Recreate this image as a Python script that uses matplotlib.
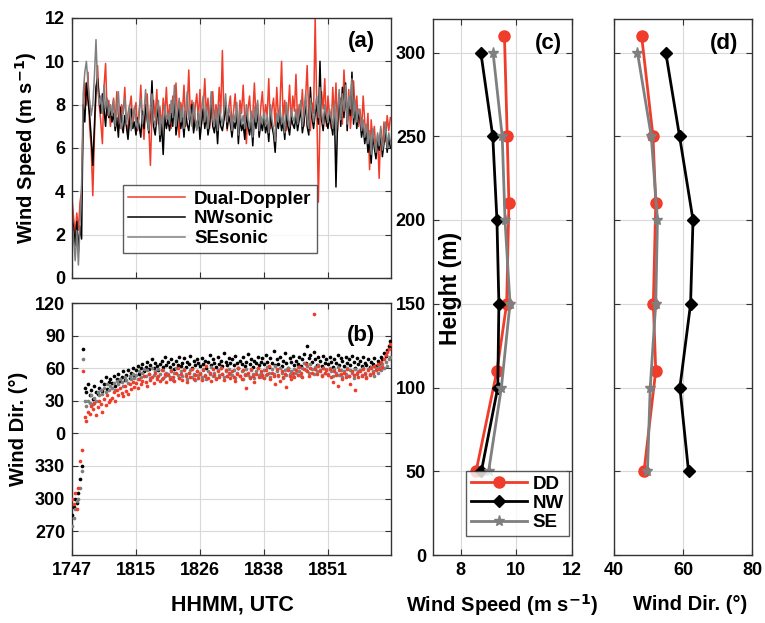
import numpy as np
import matplotlib
matplotlib.use("Agg")
import matplotlib.pyplot as plt

plt.rcParams['font.family'] = ['Liberation Sans', 'DejaVu Sans']
plt.rcParams['font.weight'] = 'bold'

RED = '#f03c2a'
GRAY = '#7f7f7f'
BLACK = '#000000'

# ---------------- Panel (a)/(b) time series (sample index) ----------------
t_idx = np.arange(0, 1000, 5)
tick_pos = [0, 200, 400, 600, 800]
tick_labels = ['1747', '1815', '1826', '1838', '1851']

ws_dd = [3.7, 2.8, 2.0, 3.0, 2.2, 3.5, 4.0,
         7.5, 9.0, 8.0, 9.5, 7.0, 6.0, 3.8, 6.5, 8.5, 9.8, 8.0, 7.2, 6.2, 8.8, 9.9, 7.5, 8.2, 7.0,
         7.8, 8.3, 7.1, 8.6, 7.4, 6.9, 8.0, 7.6, 8.8, 7.2, 6.6, 7.9, 8.4, 7.0, 7.7,
         8.1, 6.8, 7.5, 8.9, 7.3, 6.4, 7.8, 8.5, 7.0, 5.2, 7.6, 8.2, 7.4, 8.7, 7.1, 7.9, 6.7, 8.3, 7.5, 8.8,
         7.2, 8.0, 6.9, 8.4, 7.7, 9.0, 7.3, 6.5, 8.1, 7.6, 8.9, 7.0, 7.8, 9.6, 7.4, 8.2, 6.8, 7.9, 8.5, 7.3,
         8.7, 7.1, 7.8, 9.2, 7.5, 8.3, 6.9, 7.7, 8.6, 7.2, 8.0, 7.4, 8.8, 7.6, 10.5, 7.3, 8.1, 6.8, 7.9, 8.4,
         7.0, 7.7, 8.5, 7.2, 6.9, 8.2, 7.6, 8.9, 7.3, 6.2, 7.8, 8.4, 7.1, 7.5, 9.0, 7.4, 8.1, 6.6, 7.9, 8.6,
         7.2, 8.0, 7.5, 9.2, 6.9, 7.8, 8.3, 7.0, 8.8, 7.4, 7.9, 10.0, 7.3, 8.2, 6.8, 7.6, 8.9, 7.1, 8.4, 7.7,
         9.4, 7.2, 8.0, 7.5, 8.7, 7.0, 8.3, 9.8, 7.4, 6.8, 8.1, 7.6, 12.0, 7.9, 3.5, 7.3, 8.6, 7.8, 9.2, 7.0,
         8.4, 7.5, 6.9, 8.8, 7.3, 9.0, 6.8, 7.9, 8.3, 7.1, 9.6, 8.2, 7.4, 8.7, 6.9, 7.8, 9.1, 7.6, 8.4, 7.0,
         7.8, 6.8, 8.4, 7.2, 6.5, 7.6, 5.0, 7.3, 6.4, 7.0, 5.8, 6.6, 4.6, 6.9, 5.9, 7.2, 6.3, 7.5, 6.8, 7.4]

ws_nw = [2.8, 2.3, 1.5, 2.6, 1.2, 2.4, 1.8,
         8.0, 7.2, 9.0, 8.2, 7.5, 6.5, 5.2, 7.0, 8.8, 9.2, 8.3, 7.6, 8.5, 7.8, 7.0, 8.2, 7.4, 7.8,
         7.2, 7.6, 6.8, 7.4, 6.5, 7.9, 7.1, 6.7, 7.5, 7.0, 6.4, 7.3, 7.8, 6.9, 7.2,
         6.6, 7.4, 7.0, 6.5, 7.7, 6.9, 8.0, 7.3, 6.7, 7.5, 9.1, 7.0, 6.6, 7.4, 7.8, 6.3, 7.1, 5.7, 7.5, 6.9,
         7.3, 6.8, 7.6, 7.0, 8.4, 6.6, 7.2, 7.9, 6.9, 7.4, 6.5, 7.7, 7.1, 6.8, 7.5, 8.0, 6.7, 7.3, 6.9, 7.6,
         6.4, 7.2, 7.8, 6.9, 7.5, 6.6, 7.1, 8.2, 7.0, 6.7, 7.4, 6.2, 7.6, 7.0, 6.8, 7.3, 8.1, 6.9, 7.5, 7.1,
         6.5, 7.2, 6.9, 7.7, 6.2, 7.4, 6.8, 7.1, 6.4, 7.6, 7.0, 6.6, 7.3, 6.1, 7.5, 6.9, 7.8, 6.5, 7.2, 6.8,
         7.4, 6.7, 7.1, 6.3, 7.6, 7.0, 6.6, 5.8, 7.3, 6.9, 7.5, 6.8, 7.2, 6.4, 7.7, 7.0, 6.6, 7.4, 7.1, 6.9,
         7.5, 6.8, 7.3, 7.8, 6.7, 7.2, 8.2, 7.0, 6.6, 8.8, 7.4, 6.9, 7.6, 8.0, 7.1, 10.0, 7.3, 6.8, 7.7, 7.2,
         6.9, 7.5, 7.1, 6.6, 7.8, 4.2, 7.2, 8.5, 7.0, 8.8, 7.4, 9.0, 6.8, 8.2, 7.5, 9.5, 7.1, 8.0, 6.9, 7.6,
         7.3, 6.5, 7.0, 6.2, 6.8, 5.8, 6.4, 5.3, 6.6, 6.0, 5.5, 6.4, 5.9, 6.8, 5.6, 6.2, 7.0, 5.8, 6.5, 6.0]

ws_se = [2.6, 1.8, 0.8, 2.2, 0.6, 2.5, 4.3,
         8.5, 9.5, 10.0, 9.0, 8.2, 7.5, 8.0, 9.3, 11.0, 8.8, 8.0, 8.4, 7.6, 8.9, 7.8, 8.3, 7.5, 8.0,
         7.5, 8.2, 7.0, 7.8, 8.6, 7.2, 6.9, 7.7, 8.3, 7.1, 7.6, 8.0, 6.8, 7.5, 7.9,
         7.2, 6.9, 7.8, 8.3, 7.1, 7.6, 8.7, 7.4, 6.8, 7.9, 8.5, 7.3, 7.0, 7.8, 8.2, 6.6, 7.5, 7.0, 8.0, 7.3,
         7.6, 7.1, 8.2, 7.4, 8.9, 7.0, 7.7, 8.3, 7.2, 7.9, 6.9, 7.5, 8.6, 7.3, 7.8, 7.0, 8.1, 7.4, 6.8, 7.7,
         7.0, 7.8, 8.4, 7.2, 7.9, 6.9, 7.5, 8.6, 7.3, 7.0, 7.8, 6.8, 8.0, 7.4, 7.1, 7.7, 8.5, 7.2, 7.9, 7.5,
         6.8, 7.6, 7.2, 8.1, 6.6, 7.8, 7.1, 7.5, 6.9, 8.0, 7.3, 6.9, 7.7, 6.5, 7.9, 7.2, 8.2, 6.8, 7.5, 7.1,
         7.7, 7.0, 7.5, 6.7, 8.0, 7.3, 6.9, 6.3, 7.6, 7.2, 7.9, 7.1, 7.5, 6.7, 8.1, 7.3, 7.0, 7.8, 7.4, 7.2,
         7.8, 7.1, 7.6, 8.2, 7.0, 7.5, 8.5, 7.3, 6.9, 8.3, 7.7, 7.2, 7.9, 8.4, 7.4, 8.8, 7.6, 7.1, 8.0, 7.5,
         7.2, 7.8, 7.4, 6.9, 8.1, 6.6, 7.5, 8.7, 7.3, 8.5, 7.7, 8.9, 7.1, 8.4, 7.8, 9.2, 7.4, 8.2, 7.2, 7.8,
         7.5, 6.8, 7.3, 6.5, 7.1, 6.2, 6.8, 5.7, 6.9, 6.3, 5.8, 6.7, 6.1, 7.0, 5.9, 6.4, 7.2, 6.0, 6.7, 6.3]

wd_nw = [285, 292, 300, 296, 305, 318, 330,
         78, 42, 38, 45, 35, 40, 32, 44, 38, 36, 42, 48, 39, 45, 52, 41, 47, 50,
         46, 53, 44, 50, 55, 48, 52, 57, 49, 54, 58, 51, 56, 60, 53,
         58, 62, 55, 60, 64, 57, 61, 66, 59, 63, 68, 60, 65, 62, 58, 64, 67, 61, 70, 63,
         66, 61, 68, 64, 59, 67, 63, 70, 62, 65, 69, 61, 66, 64, 71, 60, 67, 63, 68, 65,
         62, 69, 64, 67, 60, 66, 72, 63, 68, 65, 61, 70, 64, 67, 62, 74, 66, 63, 69, 65,
         68, 63, 71, 65, 60, 67, 64, 70, 62, 66, 73, 64, 68, 61, 67, 65, 70, 63, 66, 69,
         64, 72, 66, 61, 69, 65, 76, 63, 68, 64, 70, 62, 67, 74, 65, 60, 69, 66, 71, 63,
         67, 64, 70, 62, 68, 73, 65, 80, 69, 72, 66, 75, 68, 63, 70, 67, 62, 71, 65, 68,
         64, 70, 66, 61, 68, 65, 72, 63, 69, 67, 62, 70, 65, 68, 63, 71, 66, 60, 69, 64,
         67, 62, 70, 65, 63, 68, 61, 66, 64, 69, 62, 67, 65, 70, 68, 74, 71, 77, 80, 85]

wd_se = [275, 282, 290, 298, 300, 310, 325,
         68, 30, 25, 30, 28, 35, 27, 33, 30, 38, 35, 40, 36, 42, 38, 45, 40, 44,
         42, 46, 40, 48, 45, 50, 47, 44, 52, 49, 46, 53, 50, 55, 51,
         54, 50, 57, 52, 56, 59, 53, 58, 55, 51, 60, 54, 57, 52, 59, 55, 50, 58, 53, 56,
         55, 52, 58, 49, 56, 60, 54, 51, 57, 53, 59, 55, 50, 56, 58, 52, 55, 49, 57, 54,
         56, 52, 59, 54, 50, 57, 55, 61, 53, 56, 51, 58, 54, 60, 55, 52, 57, 53, 59, 55,
         54, 58, 51, 56, 60, 53, 57, 50, 55, 59, 54, 52, 58, 55, 51, 57, 60, 54, 56, 52,
         58, 54, 61, 56, 52, 59, 55, 62, 57, 53, 60, 56, 51, 58, 54, 60, 55, 57, 53, 59,
         56, 61, 57, 53, 60, 65, 58, 62, 56, 64, 59, 55, 61, 57, 63, 58, 54, 60, 56, 59,
         55, 60, 57, 53, 59, 56, 61, 54, 58, 52, 57, 55, 60, 53, 58, 56, 51, 59, 55, 57,
         58, 54, 60, 56, 52, 59, 55, 61, 57, 53, 60, 56, 62, 58, 64, 60, 66, 62, 68, 70]

wd_dd = [300, 295, 305, 290, 310, 335, 345,
         57, 15, 11, 20, 18, 25, 22, 28, 17, 24, 30, 27, 20, 32, 26, 35, 29, 31,
         33, 38, 30, 40, 35, 42, 37, 34, 44, 39, 36, 45, 41, 47, 43,
         46, 42, 50, 45, 48, 53, 47, 44, 55, 49, 52, 46, 56, 50, 53, 48, 58, 51, 55, 47,
         54, 50, 57, 52, 48, 56, 60, 51, 55, 49, 58, 53, 47, 56, 52, 59, 50, 54, 57, 51,
         55, 49, 58, 53, 62, 51, 56, 48, 59, 54, 50, 57, 52, 60, 55, 49, 58, 53, 56, 51,
         57, 52, 48, 55, 60, 53, 50, 58, 54, 42, 56, 51, 59, 53, 47, 55, 60, 52, 57, 54,
         51, 58, 55, 62, 50, 56, 53, 45, 59, 54, 48, 57, 52, 55, 43, 58, 53, 50, 56, 52,
         58, 54, 61, 56, 52, 59, 64, 57, 53, 60, 56, 110, 59, 55, 62, 57, 53, 60, 56, 58,
         54, 59, 52, 47, 57, 54, 44, 58, 55, 50, 56, 52, 59, 53, 45, 57, 54, 40, 56, 52,
         57, 53, 59, 55, 51, 58, 54, 60, 56, 62, 58, 64, 59, 66, 61, 68, 72, 75, 78, 82]

dir_ticks = [-90, -60, -30, 0, 30, 60, 90, 120]
dir_ticklabels = ['270', '300', '330', '0', '30', '60', '90', '120']

# ---------------- Panel (c)/(d) profiles ----------------
h_dd = [50, 110, 150, 210, 250, 310]
h_sonic = [50, 100, 150, 200, 250, 300]
prof_ws_dd = [8.55, 9.30, 9.65, 9.73, 9.67, 9.57]
prof_ws_nw = [8.74, 9.33, 9.37, 9.30, 9.15, 8.72]
prof_ws_se = [9.00, 9.46, 9.77, 9.59, 9.49, 9.16]
prof_wd_dd = [48.7, 52.1, 51.4, 52.1, 51.3, 48.0]
prof_wd_nw = [61.6, 59.1, 62.2, 62.9, 59.0, 55.0]
prof_wd_se = [49.7, 50.5, 52.1, 52.6, 50.8, 46.8]

W, H = 765, 623
fig = plt.figure(figsize=(W / 100, H / 100), dpi=100)


def box(x0, y0, x1, y1):
    return [x0 / W, 1 - y1 / H, (x1 - x0) / W, (y1 - y0) / H]


TICK_FS = 13
LAB_FS = 14.5


def style(ax):
    ax.tick_params(direction='in', top=True, right=True, labelsize=TICK_FS,
                   length=4, width=0.8, color='#333333', pad=5)
    for s in ax.spines.values():
        s.set_color('#333333')
        s.set_linewidth(1.0)
    ax.grid(True, color='#d9d9d9', linewidth=0.8)
    ax.set_axisbelow(True)
    for lab in ax.get_xticklabels() + ax.get_yticklabels():
        lab.set_fontweight('bold')


axa = fig.add_axes(box(72, 18, 391, 278))
axb = fig.add_axes(box(72, 303, 391, 555))
axc = fig.add_axes(box(433, 19, 572, 555))
axd = fig.add_axes(box(614, 19, 752, 555))

# (a)
axa.plot(t_idx, ws_dd, color=RED, lw=1.1, label='Dual-Doppler')
axa.plot(t_idx, ws_nw, color=BLACK, lw=1.1, label='NWsonic')
axa.plot(t_idx, ws_se, color=GRAY, lw=1.1, label='SEsonic')
axa.set_xlim(0, 997)
axa.set_ylim(0, 12)
axa.set_yticks(range(0, 13, 2))
axa.set_xticks(tick_pos)
axa.set_xticklabels([])
style(axa)
axa.set_ylabel('Wind Speed (m s$^{\\mathbf{-1}}$)', fontsize=LAB_FS, fontweight='bold', labelpad=4)
leg = axa.legend(loc='lower left', bbox_to_anchor=(0.13, 0.06), fontsize=13.5, frameon=True,
                 fancybox=False, edgecolor='#333333', handlelength=3.0, borderpad=0.3,
                 labelspacing=0.15, handletextpad=0.5)
leg.get_frame().set_linewidth(1.0)
for t in leg.get_texts():
    t.set_fontweight('bold')
axa.text(0.95, 0.91, '(a)', transform=axa.transAxes, ha='right', va='center',
         fontsize=16, fontweight='bold')

# (b)
def wrap(d):
    d = np.asarray(d, dtype=float)
    return np.where(d > 180, d - 360, d)

axb.scatter(t_idx, wrap(wd_nw), s=7, color=BLACK, linewidths=0, zorder=3)
axb.scatter(t_idx, wrap(wd_se), s=7, color=GRAY, linewidths=0, zorder=3)
axb.scatter(t_idx, wrap(wd_dd), s=7, color=RED, linewidths=0, zorder=3)
axb.set_xlim(0, 997)
axb.set_ylim(-112, 120)
axb.set_yticks(dir_ticks)
axb.set_yticklabels(dir_ticklabels)
axb.set_xticks(tick_pos)
axb.set_xticklabels(tick_labels)
style(axb)
axb.set_ylabel('Wind Dir. (°)', fontsize=LAB_FS, fontweight='bold', labelpad=5)
axb.text(0.95, 0.87, '(b)', transform=axb.transAxes, ha='right', va='center',
         fontsize=16, fontweight='bold')
fig.text(232 / W, 1 - 605 / H, 'HHMM, UTC', ha='center', va='center',
         fontsize=15.5, fontweight='bold')

# (c)
axc.plot(prof_ws_dd, h_dd, color=RED, lw=2, marker='o', ms=8, label='DD')
axc.plot(prof_ws_nw, h_sonic, color=BLACK, lw=2, marker='D', ms=6, label='NW')
axc.plot(prof_ws_se, h_sonic, color=GRAY, lw=2, marker='*', ms=8, label='SE')
axc.set_xlim(7, 12)
axc.set_ylim(0, 320)
axc.set_xticks([8, 10, 12])
axc.set_yticks(range(0, 301, 50))
style(axc)
legc = axc.legend(loc='lower left', bbox_to_anchor=(0.17, 0.018), fontsize=13.5, frameon=True,
                  fancybox=False, edgecolor='#333333', handlelength=3.0, borderpad=0.25,
                  labelspacing=0.12, handletextpad=0.3)
legc.get_frame().set_linewidth(1.0)
for t in legc.get_texts():
    t.set_fontweight('bold')
axc.text(0.93, 0.955, '(c)', transform=axc.transAxes, ha='right', va='center',
         fontsize=16, fontweight='bold')
fig.text(450 / W, 1 - 288 / H, 'Height (m)', rotation=90, ha='center', va='center',
         fontsize=16.5, fontweight='bold')
fig.text(502 / W, 1 - 605 / H, 'Wind Speed (m s$^{\\mathbf{-1}}$)', ha='center', va='center',
         fontsize=LAB_FS, fontweight='bold')

# (d)
axd.plot(prof_wd_dd, h_dd, color=RED, lw=2, marker='o', ms=8)
axd.plot(prof_wd_nw, h_sonic, color=BLACK, lw=2, marker='D', ms=6)
axd.plot(prof_wd_se, h_sonic, color=GRAY, lw=2, marker='*', ms=8)
axd.set_xlim(40, 80)
axd.set_ylim(0, 320)
axd.set_xticks([40, 60, 80])
axd.set_yticks(range(0, 301, 50))
style(axd)
axd.set_yticklabels([])
axd.text(0.9, 0.955, '(d)', transform=axd.transAxes, ha='right', va='center',
         fontsize=16, fontweight='bold')
fig.text(690 / W, 1 - 605 / H, 'Wind Dir. (°)', ha='center', va='center',
         fontsize=LAB_FS, fontweight='bold')

fig.savefig('out.png', dpi=100)
